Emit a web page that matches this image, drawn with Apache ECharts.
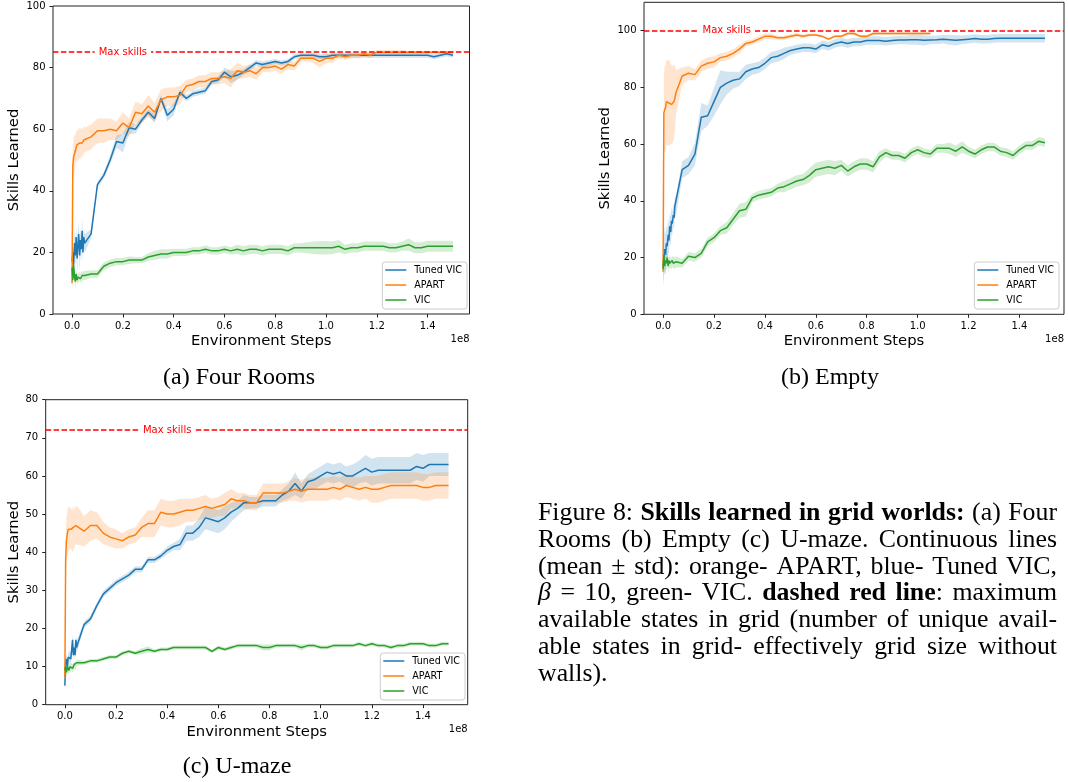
<!DOCTYPE html>
<html>
<head>
<meta charset="utf-8">
<script src="https://cdn.jsdelivr.net/npm/echarts@6/dist/echarts.min.js"></script>
<style>
  html, body { margin: 0; padding: 0; background: #fff; }
  #chart { width: 1068px; height: 782px; }
</style>
</head>
<body>
<div id="chart"></div>
<script>
// ---- shared x positions (environment steps, in units of 1e8) ----
const steps = [
  0, 0.003, 0.006, 0.01, 0.013, 0.016, 0.02, 0.023, 0.026, 0.03, 0.033, 0.036, 0.04, 0.043, 0.046, 0.05,
  0.075, 0.1, 0.125, 0.15, 0.175, 0.2, 0.225, 0.25, 0.275, 0.3,
  0.325, 0.35, 0.375, 0.4, 0.425, 0.45, 0.475, 0.5, 0.525, 0.55,
  0.575, 0.6, 0.625, 0.65, 0.675, 0.7, 0.725, 0.75, 0.775, 0.8,
  0.825, 0.85, 0.875, 0.9, 0.925, 0.95, 0.975, 1.0, 1.025, 1.05,
  1.075, 1.1, 1.125, 1.15, 1.175, 1.2, 1.225, 1.25, 1.275, 1.3,
  1.325, 1.35, 1.375, 1.4, 1.425, 1.45, 1.475, 1.5
];

const seriesNames = ['Tuned VIC', 'APART', 'VIC'];
const xTicks = [0.0, 0.2, 0.4, 0.6, 0.8, 1.0, 1.2, 1.4];
const fourRoomsYTicks = [0, 20, 40, 60, 80, 100];
const emptyYTicks = [0, 20, 40, 60, 80, 100];
const umazeYTicks = [0, 10, 20, 30, 40, 50, 60, 70, 80];
const maxSkills = [85, 100, 72];
const maxLabelAt = [0.2, 0.25, 0.4];
const subCaptions = ['(a) Four Rooms', '(b) Empty', '(c) U-maze'];

// ---- (a) Four Rooms ----
const fourRoomsTunedMean = [
  17, 20, 16, 23, 19, 25, 18, 22, 26, 19, 24, 21, 27, 20, 25, 23,
  26, 42, 45, 50, 56, 55.5, 60.5, 60, 63, 65.5,
  63.5, 70, 64.5, 66.5, 72, 70, 71.5, 72, 72.5, 75.5,
  76, 78.5, 77, 77.5, 78.5, 80, 81.5, 81, 81.5, 82,
  81.5, 82, 83.5, 84, 84, 84, 83.5, 83.5, 84, 84,
  84, 84, 84, 84, 84, 84, 84, 84, 84, 84,
  84, 84, 84, 84, 83.5, 84, 84.5, 84
];
const fourRoomsTunedStd = [
  3, 4, 5, 5, 4, 4, 5, 4, 4, 5, 4, 4, 4, 3, 3, 3,
  1.5, 1, 1, 1.5, 2, 3, 2, 1.5, 1, 1,
  1.5, 1, 2, 2, 1, 1, 1, 1, 1, 1,
  1, 1.5, 2, 1.5, 1, 1, 1, 1, 1, 0.8,
  0.8, 0.8, 0.8, 0.8, 0.8, 0.8, 0.8, 0.8, 0.8, 0.8,
  0.8, 0.8, 0.8, 0.8, 0.8, 0.8, 0.8, 0.8, 0.8, 0.8,
  0.8, 0.8, 0.8, 0.8, 0.8, 0.8, 0.8, 0.8
];
const fourRoomsApartMean = [
  10, 48, 51, 52, 53, 54, 55, 54.5, 55, 55.5, 55, 56, 55.5, 56, 56.5, 56.5,
  57.5, 59.5, 59.5, 60, 59.5, 62, 60.5, 65.5, 65, 67.5,
  65.5, 69.5, 70.5, 70.5, 71, 74, 74.5, 75.5, 75.5, 76.5,
  76.5, 77, 76.5, 79, 78.5, 79, 78, 80, 80, 80.5,
  79.5, 81, 80.5, 83, 83, 83, 82, 83, 83, 84,
  83.5, 84, 84, 84.5, 84, 85, 85, 85, 85, 85,
  85, 85, 85, 85, 85, 85, 85, 85
];
const fourRoomsApartStd = [
  3, 6, 6, 6, 5, 5, 5, 5, 5, 5, 5, 4.5, 4.5, 4.5, 4.5, 4,
  4, 4, 4, 3.5, 3, 3.5, 3, 3.5, 3, 3.5,
  3, 3.5, 3, 3, 3, 2, 2, 2, 2, 2,
  2, 2, 3, 2.5, 2, 2, 2, 1.5, 1.5, 1.5,
  1.5, 1.5, 1.5, 1, 1, 1.5, 2, 1.5, 1.5, 1,
  1, 1, 1, 1, 1, 0.7, 0.7, 0.7, 0.7, 0.7,
  0.5, 0.5, 0.5, 0.5, 0.5, 0.5, 0.5, 0.5
];
const fourRoomsVicMean = [
  15, 11, 16, 12, 10.5, 13, 11, 12, 11.5, 12.5, 11.5, 12, 12.5, 12, 12.5, 12.5,
  13, 13, 15.5, 16.5, 17, 17, 17.5, 17.5, 17.5, 18.5,
  19, 19.5, 19.5, 20, 20, 20, 20.5, 20.5, 21, 20.5,
  20.5, 21, 20.5, 21, 20.5, 21, 21, 20.5, 21, 21,
  21, 20.5, 21.5, 21.5, 21.5, 21.5, 21.5, 21.5, 21.5, 22,
  21, 21.5, 21.5, 22, 22, 22, 22, 21.5, 21.5, 22,
  22.5, 21.5, 21.5, 22, 22, 22, 22, 22
];
const fourRoomsVicStd = [
  2.5, 2, 2, 2, 2, 1.5, 1.5, 1.5, 1.5, 1.5, 1.5, 1.5, 1.5, 1.5, 1.5, 1.5,
  1.2, 1.2, 1.2, 1.2, 1.2, 1.2, 1.2, 1, 1, 1.2,
  1.5, 1.5, 1.5, 1.2, 1.2, 1.2, 1.2, 1.2, 1.2, 1.2,
  1.2, 1.2, 1.2, 1.5, 1.5, 1.5, 1.5, 1.5, 1.5, 1.5,
  1.5, 1.5, 1.5, 1.5, 1.8, 2, 2.2, 2.2, 2, 2,
  1.5, 1.5, 1.5, 1.5, 1.5, 1.5, 1.5, 1.5, 1.5, 1.5,
  2, 1.8, 1.8, 1.8, 1.8, 1.8, 1.8, 1.8
];

// ---- (b) Empty ----
const emptyTunedMean = [
  17, 20, 23, 21, 25, 24, 28, 26, 31, 29, 33, 32, 35, 34, 38, 38,
  51, 52.5, 56.5, 69.5, 70, 75, 80, 81.5, 82.5, 83,
  85.5, 86.5, 87, 88.5, 90.5, 91, 92, 93, 93.5, 94,
  94, 93.5, 95, 94.5, 95.5, 96, 95.5, 96, 96, 96.5,
  96.5, 96.5, 96.3, 96.5, 96.7, 96.7, 96.8, 96.8, 96.6, 96.7,
  96.8, 97, 96.8, 96.6, 96.8, 97, 97.2, 97, 97, 97.2,
  97.3, 97.3, 97.3, 97.3, 97.3, 97.3, 97.3, 97.3
];
const emptyTunedStd = [
  7, 7, 8, 7, 6, 6, 6, 5, 5, 5, 5, 4, 4, 4, 3.5, 3.5,
  3, 3, 4, 5, 3.5, 5, 6, 4, 3, 2.5,
  2.5, 2, 2, 2, 2, 2, 2, 1.5, 1.5, 1.5,
  1.5, 1.5, 1.5, 1.5, 1.5, 1.5, 1.5, 1.5, 1.5, 1.5,
  1.5, 1.5, 1.5, 1.5, 1.5, 1.5, 1.8, 1.8, 1.8, 1.5,
  1.5, 1.5, 1.8, 1.8, 1.5, 1.5, 1.5, 1.5, 1.5, 1.5,
  1.5, 1.5, 1.5, 1.5, 1.5, 1.5, 1.5, 1.5
];
const emptyApartMean = [
  15, 71, 72, 73, 75, 74.5, 74.5, 74.5, 74.5, 74, 74, 74, 74, 75, 76, 78,
  84, 85, 84.5, 87.5, 88.5, 89, 90.5, 91, 92, 93.5,
  95.5, 96, 97, 98, 98, 97.5, 97.5, 98, 98.5, 98,
  98.5, 98.5, 98, 97, 98, 98, 99, 99, 98, 98,
  99, 99, 99, 99, 99, 99, 99, 99, 99, 99,
  null, null, null, null, null, null, null, null, null, null,
  null, null, null, null, null, null, null, null
];
const emptyApartStd = [
  4, 14, 15, 15, 15, 15, 15, 15, 15, 14, 14, 14, 13, 13, 12, 8,
  3, 2.5, 2, 2, 2, 2, 1.5, 1.5, 1.5, 1.5,
  1, 1, 1, 1, 1, 0.7, 0.7, 0.7, 0.7, 0.7,
  0.5, 0.5, 0.5, 0.5, 0.5, 0.5, 0.5, 0.5, 0.5, 0.5,
  0.5, 0.5, 0.5, 0.5, 0.5, 0.5, 0.5, 0.5, 0.5, 0.5,
  null, null, null, null, null, null, null, null, null, null,
  null, null, null, null, null, null, null, null
];
const emptyVicMean = [
  16, 21, 17, 19, 18, 20, 17, 19, 18, 18.5, 17.5, 19, 18, 18.5, 18, 18.5,
  18, 20.5, 20, 21.5, 25.5, 27, 29.5, 30.5, 33.5, 36.5,
  37, 41, 42, 42.5, 43, 44.5, 45, 46, 47, 47.5,
  49, 51, 51.5, 52, 51.5, 52.5, 50.5, 52, 53, 53,
  52, 55.5, 57, 56, 56, 55, 57, 58, 57, 56.5,
  58.5, 58.5, 58.5, 57.5, 59, 57.5, 56.5, 58, 59, 59,
  57.5, 57, 56, 58, 59.5, 59.5, 61, 60.5
];
const emptyVicStd = [
  4, 3, 3, 3, 2.5, 2.5, 2.5, 2.5, 2, 2, 2, 2, 2, 2, 2, 2,
  1.5, 1.5, 1.5, 1.5, 1.5, 1.5, 1.5, 2, 2, 2.5,
  2.5, 1.5, 1.5, 1.5, 1.5, 1.5, 2, 2, 2, 2,
  2.5, 2.5, 2.5, 2.5, 2.5, 2, 2, 2, 2, 2,
  2, 2, 1.5, 1.5, 1.5, 1.5, 1.5, 1.5, 1.5, 1.5,
  1.5, 1.5, 2, 2, 2, 1.5, 1.5, 1.5, 1.5, 1.5,
  1.5, 1.5, 1.5, 1.5, 1.5, 1.5, 1.5, 1.5
];

// ---- (c) U-maze ----
const umazeTunedMean = [
  5, 11, 12, 10, 12.5, 12, 13, 12, 14, 17, 13, 15, 13, 17, 15, 16,
  21, 22.5, 26, 29, 30.5, 32, 33, 34, 35.5, 35.5,
  38, 38, 39, 40.5, 41.5, 42, 45, 45, 46.5, 49,
  48.5, 48, 49, 50.5, 51.5, 53, 53, 53, 53.5, 53.5,
  53.5, 55, 56, 58, 56, 58.5, 59, 60, 61, 60.5,
  61, 60, 60, 61, 62, 61, 61.5, 61.5, 61.5, 61.5,
  61.5, 61.5, 62.5, 62, 63, 63, 63, 63
];
const umazeTunedStd = [
  1.5, 1.5, 1.5, 1.5, 1.5, 1.5, 1.5, 1.5, 1.5, 1.5, 1.5, 1.5, 1.5, 1.5, 1.5, 1.5,
  0.8, 0.8, 0.8, 0.8, 0.8, 0.8, 0.8, 0.8, 0.8, 0.8,
  0.8, 0.8, 0.8, 1, 1, 1.5, 2, 2, 2.5, 3,
  3, 3, 3, 2.5, 2, 2, 1.5, 1.5, 1.5, 1.5,
  1.5, 1.5, 2, 3, 2, 2, 2.5, 2.5, 2.5, 2.5,
  2.5, 2.5, 3, 3, 3.5, 3.5, 3.5, 3.5, 3.5, 3.5,
  3.5, 3.5, 3.5, 3.5, 3, 3, 3, 3
];
const umazeApartMean = [
  7, 38, 43, 45, 46, 46, 46.5, 46, 46, 45.5, 46.5, 46, 47, 47, 47, 47,
  45.5, 47, 47, 45, 44, 43.5, 43, 44, 44.5, 46.5,
  47.5, 47.5, 50.5, 50, 50, 50.5, 51, 51, 51.5, 52,
  51.5, 52, 52.5, 54, 53.5, 53.5, 53, 53, 55.5, 55.5,
  55.5, 55.5, 56, 56.5, 56, 56.5, 56.5, 56.5, 56.5, 57,
  56.5, 57.5, 57, 56.5, 57, 56.5, 56.5, 57, 57.5, 57.5,
  57.5, 57.5, 57.5, 57, 57, 57.5, 57.5, 57.5
];
const umazeApartStd = [
  2, 5, 6, 6, 6, 5.5, 5.5, 5, 5.5, 5.5, 6, 5, 5, 5, 5, 5,
  4, 4, 3.5, 3, 2.5, 2.5, 2, 2, 2, 2.5,
  3.5, 3.5, 3.5, 3.5, 3.5, 3.5, 3, 3, 3, 3,
  2.5, 2.5, 3, 2.5, 2, 2, 2, 2, 2.5, 2.5,
  2.5, 2.5, 2.5, 3, 3, 3, 3, 3, 3, 3,
  3, 3, 3, 3, 3, 3.5, 3.5, 3.5, 3.5, 3.5,
  3.5, 3.5, 3.5, 3.5, 3.5, 3.5, 3.5, 3.5
];
const umazeVicMean = [
  9, 10, 8.5, 10, 9.5, 9, 10, 9.5, 10, 9.5, 10, 10.5, 10, 10.5, 11, 11,
  11, 11.5, 11.5, 12, 12.5, 12.5, 13.5, 14, 13.5, 14,
  14.5, 14, 14.5, 14.5, 15, 15, 15, 15, 15, 15,
  14, 15, 14.5, 15, 15.5, 15.5, 15.5, 15.5, 15, 15,
  15.5, 15.5, 15.5, 15.5, 15, 15.5, 15.5, 15, 15, 15.5,
  15.5, 15.5, 15.5, 16, 15.5, 16, 15.5, 15.5, 15, 15.5,
  15.5, 16, 16, 16, 15.5, 15.5, 16, 16
];
const umazeVicStd = [
  1.5, 1.5, 1.5, 1.5, 1.2, 1.2, 1.2, 1.2, 1, 1, 1, 1, 1, 1, 0.8, 0.8,
  0.5, 0.5, 0.5, 0.5, 0.5, 0.5, 0.5, 0.5, 0.5, 0.8,
  0.8, 0.5, 0.5, 0.5, 0.5, 0.5, 0.5, 0.5, 0.5, 0.5,
  0.5, 0.5, 0.5, 0.5, 0.5, 0.5, 0.5, 0.5, 0.8, 0.8,
  0.5, 0.5, 0.5, 0.5, 0.8, 0.5, 0.5, 0.5, 0.5, 0.5,
  0.5, 0.5, 0.5, 0.5, 0.5, 0.5, 0.5, 0.5, 0.5, 0.5,
  0.5, 0.5, 0.5, 0.5, 0.5, 0.5, 0.5, 0.5
];

// ---- figure caption, line by line; 'n' normal, 'b' bold, 'i' italic ----
const captionLines = [
  [['Figure 8: ', 'n'], ['Skills learned in grid worlds:', 'b'], [' (a) Four', 'n']],
  [['Rooms (b) Empty (c) U-maze. Continuous lines', 'n']],
  [['(mean \u00b1 std): orange- APART, blue- Tuned VIC,', 'n']],
  [['\u03b2', 'i'], [' = 10, green- VIC. ', 'n'], ['dashed red line', 'b'], [': maximum', 'n']],
  [['available states in grid (number of unique avail-', 'n']],
  [['able states in grid- effectively grid size without', 'n']],
  [['walls).', 'n']]
];

// ---------------------------------------------------------------
const SANS = 'DejaVu Sans';
const SERIF = 'Liberation Serif';
const COLORS = ['#1f77b4', '#ff7f0e', '#2ca02c'];
const AXIS_COLOR = '#222';

const panels = [
  {
    grid: { left: 53, top: 6, width: 416.5, height: 308 },
    xMax: 1.565, yMax: 100, yInterval: 20, yTicks: fourRoomsYTicks, yNameGap: 31.6,
    means: [fourRoomsTunedMean, fourRoomsApartMean, fourRoomsVicMean],
    stds: [fourRoomsTunedStd, fourRoomsApartStd, fourRoomsVicStd],
    legendRight: 1068 - 467, legendTop: 262, capX: 239, capY: 378
  },
  {
    grid: { left: 644, top: 2.3, width: 420, height: 312 },
    xMax: 1.575, yMax: 110, yInterval: 20, yTicks: emptyYTicks, yNameGap: 31,
    means: [emptyTunedMean, emptyApartMean, emptyVicMean],
    stds: [emptyTunedStd, emptyApartStd, emptyVicStd],
    legendRight: 1068 - 1059, legendTop: 262, capX: 830, capY: 378
  },
  {
    grid: { left: 45.7, top: 399.7, width: 422, height: 305 },
    xMax: 1.575, yMax: 80, yInterval: 10, yTicks: umazeYTicks, yNameGap: 24.3,
    means: [umazeTunedMean, umazeApartMean, umazeVicMean],
    stds: [umazeTunedStd, umazeApartStd, umazeVicStd],
    legendRight: 1068 - 465, legendTop: 653, capX: 237, capY: 767
  }
];

// shaded mean ± std band, drawn as one polygon through the axis scales
function bandSeries(k, mean, std, color) {
  const rows = [];
  steps.forEach((x, i) => {
    if (mean[i] != null) rows.push([x, mean[i] - std[i], mean[i] + std[i]]);
  });
  return {
    type: 'custom', xAxisIndex: k, yAxisIndex: k, silent: true, z: 1,
    data: rows, encode: { x: 0, y: [1, 2] },
    renderItem: (params, api) => {
      if (params.dataIndex !== 0) return null;
      const upper = rows.map(r => api.coord([r[0], r[2]]));
      const lower = rows.map(r => api.coord([r[0], r[1]])).reverse();
      return {
        type: 'polygon', silent: true,
        shape: { points: upper.concat(lower) },
        style: { fill: color, opacity: 0.2 }
      };
    }
  };
}

function lineSeries(k, name, mean, color) {
  const data = [];
  steps.forEach((x, i) => { if (mean[i] != null) data.push([x, mean[i]]); });
  return {
    type: 'line', name, xAxisIndex: k, yAxisIndex: k, z: 2,
    color, data, symbol: 'none', showSymbol: false, clip: true,
    lineStyle: { color, width: 1.5 }
  };
}

const option = {
  animation: false,
  backgroundColor: '#ffffff',
  grid: [], xAxis: [], yAxis: [], legend: [], series: [], graphic: []
};

panels.forEach((p, k) => {
  option.grid.push(Object.assign({ show: true, borderColor: AXIS_COLOR, borderWidth: 1 }, p.grid));

  option.xAxis.push({
    type: 'value', gridIndex: k, min: -0.075, max: p.xMax,
    name: 'Environment Steps', nameLocation: 'middle', nameGap: 19.6,
    nameTextStyle: { fontFamily: SANS, fontSize: 14.8, color: '#000' },
    axisLine: { show: false, onZero: false },
    axisTick: { show: true, length: 3.5, customValues: xTicks, lineStyle: { color: AXIS_COLOR, width: 1 } },
    axisLabel: { customValues: xTicks, formatter: v => v.toFixed(1), fontFamily: SANS, fontSize: 10, color: '#000', margin: 7 },
    splitLine: { show: false }
  });

  option.yAxis.push({
    type: 'value', gridIndex: k, min: 0, max: p.yMax, interval: p.yInterval,
    name: 'Skills Learned', nameLocation: 'middle', nameGap: p.yNameGap,
    nameTextStyle: { fontFamily: SANS, fontSize: 14.8, color: '#000' },
    axisLine: { show: false, onZero: false },
    axisTick: { show: true, length: 3.5, customValues: p.yTicks, lineStyle: { color: AXIS_COLOR, width: 1 } },
    axisLabel: { customValues: p.yTicks, formatter: v => String(v), fontFamily: SANS, fontSize: 10, color: '#000', margin: 7.5 },
    splitLine: { show: false }
  });

  option.legend.push({
    orient: 'vertical', right: p.legendRight, top: p.legendTop,
    data: seriesNames, icon: 'rect', itemWidth: 21, itemHeight: 1.5, itemGap: 3,
    padding: [2, 5, 3, 3], borderColor: '#cccccc', borderWidth: 1, borderRadius: 3,
    backgroundColor: 'rgba(255,255,255,0.8)', selectedMode: false, z: 10,
    textStyle: { fontFamily: SANS, fontSize: 9.6, color: '#000', lineHeight: 12, padding: [0, 0, 0, 3] }
  });

  p.means.forEach((m, j) => option.series.push(bandSeries(k, m, p.stds[j], COLORS[j])));
  p.means.forEach((m, j) => option.series.push(lineSeries(k, seriesNames[j], m, COLORS[j])));

  // dashed "Max skills" reference line with its label
  option.series.push({
    type: 'line', xAxisIndex: k, yAxisIndex: k, data: [], z: 4, silent: true,
    markLine: {
      silent: true, symbol: 'none', animation: false,
      data: [{ yAxis: maxSkills[k] }],
      lineStyle: { color: '#ff0000', type: [5.5, 2.4], width: 1.5 },
      label: { show: false }
    },
    markPoint: {
      silent: true, animation: false, symbol: 'circle', symbolSize: 1,
      itemStyle: { color: 'rgba(0,0,0,0)' },
      data: [{ coord: [maxLabelAt[k], maxSkills[k]] }],
      label: {
        show: true, position: 'inside', formatter: 'Max skills', color: '#ff0000',
        fontFamily: SANS, fontSize: 10, backgroundColor: '#ffffff', padding: [1, 4]
      }
    }
  });

  const right = p.grid.left + p.grid.width;
  const bottom = p.grid.top + p.grid.height;
  option.graphic.push({
    type: 'text', x: right, y: bottom + 25, silent: true,
    style: { text: '1e8', font: '10px "' + SANS + '"', fill: '#000', textAlign: 'right', textVerticalAlign: 'middle' }
  });
  option.graphic.push({
    type: 'text', x: p.capX, y: p.capY, silent: true,
    style: { text: subCaptions[k], font: '24px "' + SERIF + '"', fill: '#000', textAlign: 'center', textVerticalAlign: 'middle' }
  });
});

// justified figure caption, laid out word by word
(function layoutCaption() {
  const size = 25.8;
  const fonts = {
    n: size + 'px "' + SERIF + '"',
    b: 'bold ' + size + 'px "' + SERIF + '"',
    i: 'italic ' + size + 'px "' + SERIF + '"'
  };
  const ctx = document.createElement('canvas').getContext('2d');
  const measure = (t, s) => { ctx.font = fonts[s]; return ctx.measureText(t).width; };
  const left = 538, right = 1057, top = 513, lineGap = 26.9;
  ctx.font = fonts.n;
  const space = ctx.measureText(' ').width;

  captionLines.forEach((segs, li) => {
    const words = [];
    let cur = [];
    segs.forEach(([text, st]) => {
      for (const ch of text) {
        if (ch === ' ') { if (cur.length) { words.push(cur); cur = []; } continue; }
        const last = cur[cur.length - 1];
        if (last && last.s === st) last.t += ch; else cur.push({ t: ch, s: st });
      }
    });
    if (cur.length) words.push(cur);
    const widths = words.map(w => w.reduce((a, r) => a + measure(r.t, r.s), 0));
    const total = widths.reduce((a, b) => a + b, 0);
    const isLast = li === captionLines.length - 1;
    const gap = (isLast || words.length < 2) ? space : (right - left - total) / (words.length - 1);
    let x = left;
    const y = top + li * lineGap;
    words.forEach((w) => {
      w.forEach(r => {
        option.graphic.push({
          type: 'text', x, y, silent: true,
          style: { text: r.t, font: fonts[r.s], fill: '#000', textAlign: 'left', textVerticalAlign: 'middle' }
        });
        x += measure(r.t, r.s);
      });
      x += gap;
    });
  });
})();

const chart = echarts.init(document.getElementById('chart'), null, { renderer: 'canvas', width: 1068, height: 782 });
chart.setOption(option);
</script>
</body>
</html>
